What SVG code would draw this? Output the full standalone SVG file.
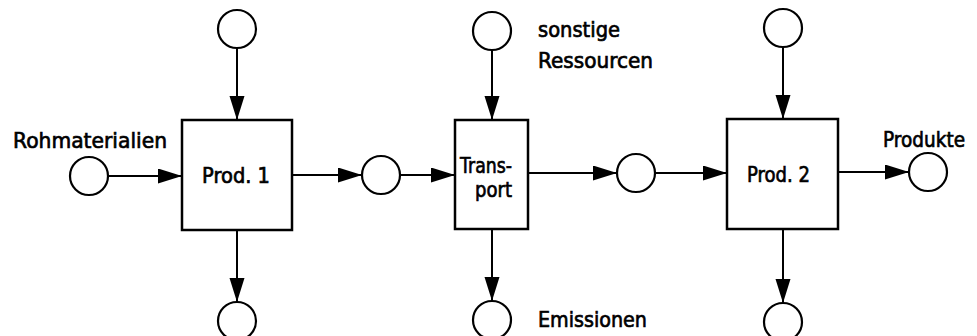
<svg xmlns="http://www.w3.org/2000/svg" width="977" height="336" viewBox="0 0 977 336">
<defs>
<style>
.box{fill:#fff;stroke:#000;stroke-width:2.5}
.place{fill:#fff;stroke:#000;stroke-width:2.2}
.edge{stroke:#000;stroke-width:2;fill:none;marker-end:url(#ah)}
text{font-family:"DejaVu Sans","Liberation Sans",sans-serif;font-size:21px;fill:#000;stroke:#000;stroke-width:0.7}
</style>
<marker id="ah" markerUnits="userSpaceOnUse" markerWidth="26" markerHeight="16" refX="24" refY="7.5" orient="auto">
<path d="M0,0 L24,7.5 L0,15 z" fill="#000"/>
</marker>
</defs>
<rect width="977" height="336" fill="#fff"/>
<g id="connectors">
<line class="edge" x1="108" y1="176" x2="182" y2="176"/>
<line class="edge" x1="237" y1="48" x2="237" y2="120"/>
<line class="edge" x1="237" y1="230" x2="237" y2="302"/>
<line class="edge" x1="292" y1="175" x2="362" y2="175"/>
<line class="edge" x1="400" y1="175" x2="455" y2="175"/>
<line class="edge" x1="492" y1="50" x2="492" y2="120"/>
<line class="edge" x1="492" y1="229" x2="492" y2="301"/>
<line class="edge" x1="528" y1="173" x2="617" y2="173"/>
<line class="edge" x1="655" y1="173" x2="727" y2="173"/>
<line class="edge" x1="783" y1="47" x2="783" y2="119"/>
<line class="edge" x1="783" y1="229" x2="783" y2="303"/>
<line class="edge" x1="838" y1="172" x2="909" y2="172"/>
</g>
<g id="prod1"><rect class="box" x="182" y="120" width="110" height="110"/><text x="202" y="183" textLength="68" lengthAdjust="spacingAndGlyphs">Prod. 1</text></g>
<g id="transport"><rect class="box" x="455" y="120" width="73" height="109"/><text x="460" y="173" textLength="52" lengthAdjust="spacingAndGlyphs">Trans-</text><text x="475" y="197" textLength="37" lengthAdjust="spacingAndGlyphs">port</text></g>
<g id="prod2"><rect class="box" x="727" y="119" width="111" height="110"/><text x="747" y="182" textLength="63" lengthAdjust="spacingAndGlyphs">Prod. 2</text></g>
<g id="rohmaterialien"><circle class="place" cx="89" cy="176" r="19"/><text x="13" y="148" textLength="154" lengthAdjust="spacingAndGlyphs">Rohmaterialien</text></g>
<g id="p1top"><circle class="place" cx="237" cy="29" r="19"/></g>
<g id="p1bottom"><circle class="place" cx="237" cy="321" r="19"/></g>
<g id="mid1"><circle class="place" cx="381" cy="175" r="19"/></g>
<g id="sonstige"><circle class="place" cx="492" cy="31" r="19"/><text x="538" y="37" textLength="82" lengthAdjust="spacingAndGlyphs">sonstige</text><text x="538" y="68" textLength="115" lengthAdjust="spacingAndGlyphs">Ressourcen</text></g>
<g id="emissionen"><circle class="place" cx="492" cy="320" r="19"/><text x="538" y="327" textLength="109" lengthAdjust="spacingAndGlyphs">Emissionen</text></g>
<g id="mid2"><circle class="place" cx="636" cy="173" r="19"/></g>
<g id="p2top"><circle class="place" cx="783" cy="28" r="19"/></g>
<g id="p2bottom"><circle class="place" cx="783" cy="322" r="19"/></g>
<g id="produkte"><circle class="place" cx="928" cy="172" r="19"/><text x="883" y="147" textLength="82" lengthAdjust="spacingAndGlyphs">Produkte</text></g>
</svg>
